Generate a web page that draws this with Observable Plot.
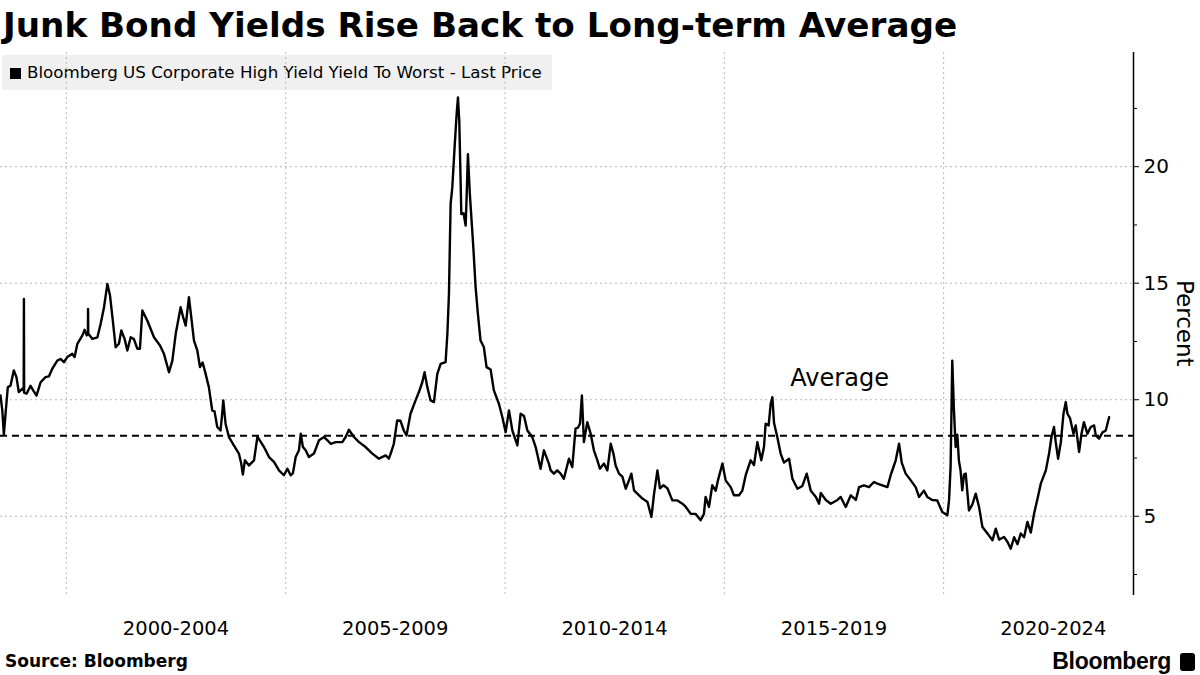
<!DOCTYPE html>
<html>
<head>
<meta charset="utf-8">
<script src="https://cdn.jsdelivr.net/npm/d3@7"></script>
<script src="https://cdn.jsdelivr.net/npm/@observablehq/plot@0.6"></script>
<style>
  body { margin: 0; background: #fff; }
  #wrap { position: relative; width: 1200px; height: 675px; overflow: hidden; font-family: "DejaVu Sans", sans-serif; color: #000; }
  #title { position: absolute; left: 3px; top: 5px; font-weight: bold; font-size: 34.2px; line-height: 40px; white-space: nowrap; }
  #legend { position: absolute; left: 2px; top: 55px; width: 550px; height: 35px; background: #f0f0f0; font-size: 16.7px; line-height: 35px; white-space: nowrap; }
  #legend .sw { display: inline-block; width: 11px; height: 11px; background: #000; margin-left: 8px; margin-right: 6px; vertical-align: -1px; }
  #chart { position: absolute; left: 0; top: 45px; }
  #ylabel { position: absolute; left: 1172px; top: 280px; height: 92px; writing-mode: vertical-rl; font-size: 23px; line-height: 26px; white-space: nowrap; }
  #source { position: absolute; left: 5px; top: 650px; font-weight: bold; font-size: 17px; line-height: 22px; white-space: nowrap; }
  #brand { position: absolute; right: 5px; top: 648px; font-family: "Liberation Sans", sans-serif; font-weight: bold; font-size: 23px; line-height: 26px; white-space: nowrap; letter-spacing: -0.3px; }
  #brand .ic { display: inline-block; width: 15px; height: 18px; background: #000; border-radius: 3px; margin-left: 9px; vertical-align: -2px; }
</style>
</head>
<body>
<div id="wrap">
  <div id="legend"><span class="sw"></span>Bloomberg US Corporate High Yield Yield To Worst - Last Price</div>
  <div id="chart"></div>
  <div id="title">Junk Bond Yields Rise Back to Long-term Average</div>
  <div id="ylabel">Percent</div>
  <div id="source">Source: Bloomberg</div>
  <div id="brand">Bloomberg<span class="ic"></span></div>
</div>
<script>
const dates = [
  "1998-07-02","1998-07-17","1998-07-30","1998-08-13","1998-09-01","1998-09-23","1998-10-21","1998-11-12","1998-12-01","1998-12-30",
  "1999-01-11","1999-01-13","1999-01-15","1999-02-04","1999-03-09","1999-03-31","1999-04-28","1999-06-01","1999-07-12","1999-08-09",
  "1999-09-06","1999-10-18","1999-11-14","1999-12-12","2000-01-09","2000-02-20","2000-03-10","2000-04-02","2000-05-14","2000-06-02",
  "2000-06-19","2000-06-29","2000-06-30","2000-07-02","2000-07-08","2000-08-05","2000-09-16","2000-10-13","2000-11-10","2000-12-08",
  "2000-12-30","2001-01-19","2001-02-15","2001-03-14","2001-04-03","2001-05-01","2001-05-23","2001-06-20","2001-07-17","2001-08-14",
  "2001-09-05","2001-09-25","2001-11-05","2001-12-31","2002-02-19","2002-03-24","2002-05-05","2002-06-02","2002-06-30","2002-08-10",
  "2002-09-02","2002-09-21","2002-10-18","2002-11-29","2002-12-27","2003-01-18","2003-02-09","2003-03-06","2003-04-02","2003-04-30",
  "2003-05-19","2003-06-11","2003-07-08","2003-07-22","2003-07-31","2003-08-19","2003-09-16","2003-10-27","2003-12-08","2003-12-26",
  "2004-01-10","2004-01-27","2004-03-01","2004-04-12","2004-05-10","2004-05-25","2004-07-04","2004-08-15","2004-09-25","2004-11-06",
  "2004-12-17","2005-01-15","2005-02-11","2005-03-02","2005-03-25","2005-04-21","2005-05-06","2005-05-24","2005-06-16","2005-07-13",
  "2005-08-24","2005-10-05","2005-11-16","2005-12-14","2006-01-10","2006-02-21","2006-04-17","2006-05-15","2006-06-11","2006-07-23",
  "2006-09-03","2006-10-28","2006-12-23","2007-02-16","2007-04-13","2007-05-10","2007-06-01","2007-06-20","2007-07-18","2007-08-14",
  "2007-09-11","2007-10-04","2007-11-06","2007-12-18","2008-01-15","2008-02-12","2008-03-02","2008-03-25","2008-04-21","2008-05-19",
  "2008-06-16","2008-07-14","2008-08-24","2008-09-08","2008-09-21","2008-10-05","2008-10-19","2008-11-07","2008-11-24","2008-12-05",
  "2008-12-16","2008-12-27","2009-01-02","2009-01-21","2009-02-07","2009-02-15","2009-02-26","2009-03-14","2009-04-12","2009-05-01",
  "2009-05-20","2009-06-11","2009-07-09","2009-07-31","2009-09-03","2009-09-30","2009-11-11","2009-12-10","2010-01-06","2010-02-03",
  "2010-03-03","2010-04-14","2010-05-11","2010-06-08","2010-07-06","2010-08-16","2010-09-13","2010-10-24","2010-11-21","2011-01-01",
  "2011-01-16","2011-02-12","2011-03-12","2011-04-09","2011-05-06","2011-06-17","2011-07-15","2011-08-11","2011-08-31","2011-09-17",
  "2011-10-03","2011-10-20","2011-11-17","2011-12-15","2012-01-11","2012-02-09","2012-03-01","2012-04-04","2012-05-02","2012-05-30",
  "2012-06-21","2012-07-10","2012-08-07","2012-09-04","2012-10-02","2012-10-29","2012-11-18","2012-12-10","2013-01-21","2013-02-18",
  "2013-04-01","2013-05-04","2013-05-26","2013-06-23","2013-07-14","2013-08-12","2013-09-14","2013-10-25","2013-12-06","2014-01-17",
  "2014-02-14","2014-03-27","2014-05-08","2014-06-18","2014-07-15","2014-07-29","2014-08-26","2014-09-23","2014-10-21","2014-11-09",
  "2014-12-16","2015-01-12","2015-02-23","2015-03-22","2015-05-03","2015-05-31","2015-06-28","2015-08-08","2015-09-05","2015-10-03",
  "2015-11-05","2015-11-27","2015-12-11","2016-01-05","2016-01-22","2016-02-05","2016-02-19","2016-03-17","2016-04-14","2016-05-12",
  "2016-06-23","2016-07-21","2016-09-01","2016-10-12","2016-11-17","2016-12-20","2017-02-01","2017-02-28","2017-03-14","2017-04-25",
  "2017-06-05","2017-07-31","2017-08-27","2017-10-08","2017-11-19","2017-12-31","2018-01-27","2018-03-09","2018-04-19","2018-05-31",
  "2018-06-29","2018-08-09","2018-09-20","2018-10-17","2018-11-28","2018-12-26","2019-01-17","2019-02-19","2019-04-01","2019-05-13",
  "2019-06-10","2019-07-21","2019-08-18","2019-09-28","2019-11-09","2019-12-21","2020-02-01","2020-02-15","2020-02-28","2020-03-13",
  "2020-03-26","2020-04-10","2020-04-24","2020-05-07","2020-05-21","2020-06-04","2020-06-19","2020-07-03","2020-07-30","2020-08-27",
  "2020-09-24","2020-10-22","2020-11-19","2020-12-31","2021-02-11","2021-03-10","2021-04-07","2021-05-18","2021-06-16","2021-07-13",
  "2021-08-10","2021-09-07","2021-10-04","2021-11-01","2021-11-29","2021-12-27","2022-01-23","2022-02-21","2022-03-20","2022-05-01",
  "2022-05-28","2022-06-17","2022-07-08","2022-07-22","2022-08-11","2022-09-03","2022-09-25","2022-10-14","2022-10-28","2022-11-19",
  "2022-12-17","2023-01-05","2023-02-02","2023-02-22","2023-03-14","2023-04-12","2023-05-10","2023-06-07","2023-06-21","2023-07-18",
  "2023-08-16","2023-09-12","2023-10-10"
];
const yields = [
  10.18, 9.54, 8.50, 9.40, 10.54, 10.60, 11.26, 10.97, 10.33, 10.47,
  10.40, 14.33, 10.30, 10.26, 10.60, 10.40, 10.18, 10.75, 10.97, 11.00,
  11.33, 11.68, 11.75, 11.61, 11.83, 11.97, 11.83, 12.40, 12.76, 13.00,
  12.76, 12.80, 13.90, 12.80, 12.80, 12.61, 12.68, 13.26, 13.97, 14.97,
  14.47, 13.54, 12.25, 12.40, 12.97, 12.60, 12.11, 12.68, 12.60, 12.19,
  12.19, 13.83, 13.40, 12.68, 12.33, 11.97, 11.18, 11.68, 12.83, 13.97,
  13.50, 13.18, 14.40, 12.54, 12.11, 11.40, 11.60, 11.11, 10.54, 9.54,
  9.50, 8.83, 8.68, 9.40, 9.97, 8.97, 8.40, 8.04, 7.69, 7.30,
  6.79, 7.40, 7.18, 7.40, 8.40, 8.30, 7.97, 7.54, 7.33, 6.97,
  6.76, 7.04, 6.76, 6.85, 7.54, 7.83, 8.54, 7.97, 7.83, 7.54,
  7.69, 8.26, 8.40, 8.26, 8.11, 8.18, 8.18, 8.40, 8.71, 8.40,
  8.18, 7.97, 7.69, 7.47, 7.61, 7.47, 7.80, 8.11, 9.11, 9.10,
  8.68, 8.47, 9.40, 9.97, 10.33, 10.75, 11.18, 10.54, 9.97, 9.90,
  11.11, 11.54, 11.61, 12.83, 14.54, 18.40, 19.11, 20.83, 22.26, 22.97,
  21.97, 19.40, 17.97, 18.00, 17.47, 18.68, 20.54, 18.83, 16.54, 14.83,
  13.69, 12.54, 12.25, 11.40, 11.30, 10.40, 9.83, 9.25, 8.61, 9.54,
  8.68, 8.04, 9.40, 9.30, 8.68, 8.40, 7.97, 7.04, 7.83, 7.26,
  6.97, 6.83, 6.97, 6.83, 6.61, 7.47, 7.11, 8.76, 8.80, 8.97,
  10.18, 8.18, 9.04, 8.54, 7.83, 7.40, 7.04, 7.26, 6.97, 8.11,
  7.70, 7.18, 6.83, 6.70, 6.18, 6.54, 6.83, 6.11, 5.90, 5.76,
  5.61, 4.97, 5.97, 6.97, 6.20, 6.33, 6.20, 5.68, 5.68, 5.54,
  5.40, 5.11, 5.10, 4.83, 5.10, 5.83, 5.40, 6.33, 6.10, 6.54,
  7.26, 6.54, 6.25, 5.90, 5.90, 6.10, 6.76, 7.40, 7.20, 8.18,
  7.40, 7.97, 8.97, 8.90, 9.83, 10.11, 9.00, 8.40, 7.69, 7.30,
  7.47, 6.61, 6.18, 6.30, 6.83, 6.11, 5.83, 5.54, 6.00, 5.70,
  5.54, 5.70, 5.83, 5.40, 5.90, 5.70, 6.25, 6.33, 6.25, 6.47,
  6.40, 6.33, 6.25, 6.76, 7.40, 8.11, 7.30, 6.83, 6.55, 6.25,
  5.83, 6.10, 5.83, 5.70, 5.68, 5.18, 5.04, 5.68, 7.11, 11.68,
  9.68, 7.97, 8.50, 7.40, 6.97, 6.11, 6.80, 6.83, 5.25, 5.50,
  5.97, 5.40, 4.54, 4.26, 3.97, 4.47, 4.00, 4.11, 3.90, 3.61,
  4.10, 3.80, 4.26, 4.10, 4.76, 4.30, 5.11, 5.76, 6.40, 6.97,
  7.69, 8.40, 8.83, 8.20, 7.47, 8.18, 9.40, 9.90, 9.40, 9.20,
  8.54, 8.90, 7.76, 8.54, 9.04, 8.54, 8.83, 8.90, 8.47, 8.33,
  8.60, 8.68, 9.25
];
const average = 8.45;
const periodLabels = ["2000-2004", "2005-2009", "2010-2014", "2015-2019", "2020-2024"];
const periodMids = ["2002-07-02", "2007-07-02", "2012-07-01", "2017-07-02", "2022-07-02"];
const gridDates = ["2000-01-01", "2005-01-01", "2010-01-01", "2015-01-01", "2020-01-01"];
const yTicks = [5, 10, 15, 20];
const yMinorTicks = [2.5, 7.5, 12.5, 17.5, 22.5];
const xDomain = ["1998-07-02", "2024-04-30"];
const yDomain = [1.6, 24.9];
const annotations = [{date: "2017-08-18", value: 10.91, label: "Average"}];

const data = dates.map((d, i) => ({date: new Date(d), value: yields[i]}));
const periods = periodLabels.map((label, i) => ({label, mid: new Date(periodMids[i])}));
const notes = annotations.map(a => ({...a, date: new Date(a.date)}));
const gridStyle = {stroke: "#b8b8b8", strokeOpacity: 1, strokeWidth: 1, strokeDasharray: "2,3"};

const chart = Plot.plot({
  width: 1200,
  height: 600,
  marginTop: 7,
  marginBottom: 50,
  marginLeft: 0,
  marginRight: 67,
  style: {background: "transparent", fontFamily: "DejaVu Sans, sans-serif", color: "#000"},
  x: {type: "utc", domain: xDomain.map(d => new Date(d)), axis: null},
  y: {domain: yDomain, axis: null},
  marks: [
    Plot.gridX(gridDates.map(d => new Date(d)), gridStyle),
    Plot.gridY(yTicks, gridStyle),
    Plot.ruleY([average], {stroke: "#000", strokeWidth: 2, strokeDasharray: "7,5"}),
    Plot.lineY(data, {x: "date", y: "value", stroke: "#000", strokeWidth: 2.4}),
    Plot.ruleX([new Date(xDomain[1])], {stroke: "#000", strokeWidth: 1.5}),
    Plot.axisY(yTicks, {anchor: "right", tickSize: 5, tickPadding: 5, fontSize: 20, label: null}),
    Plot.axisY(yMinorTicks, {anchor: "right", tickSize: 3, tickFormat: () => "", label: null}),
    Plot.text(periods, {x: "mid", text: "label", frameAnchor: "bottom", dy: 39, fontSize: 19.5}),
    Plot.text(notes, {x: "date", y: "value", text: "label", fontSize: 24})
  ]
});
document.getElementById("chart").appendChild(chart);
</script>
</body>
</html>
